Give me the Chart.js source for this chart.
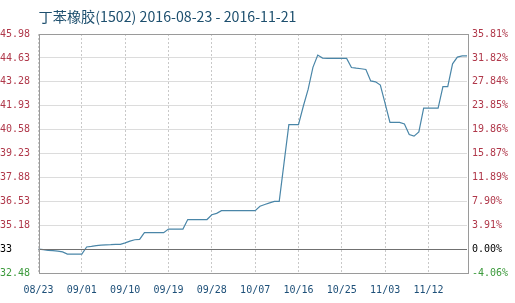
<!DOCTYPE html>
<html lang="zh">
  <head>
    <meta charset="UTF-8" />
    <title>丁苯橡胶(1502)</title>
    <script src="https://cdn.jsdelivr.net/npm/chart.js"></script>
    <style>
      body {
        margin: 0;
        padding: 0;
        background: #fff;
      }
      .wrap {
        width: 515px;
        height: 303px;
      }
    </style>
  </head>
  <body>
    <div class="wrap">
      <canvas id="priceChart" width="515" height="303"></canvas>
    </div>

    <script>
      const titleText = "丁苯橡胶(1502) 2016-08-23 - 2016-11-21";

      // daily dates shown on the x axis
      const dates = [
        "08/23", "08/24", "08/25", "08/26", "08/27", "08/28", "08/29", "08/30", "08/31",
        "09/01", "09/02", "09/03", "09/04", "09/05", "09/06", "09/07", "09/08", "09/09",
        "09/10", "09/11", "09/12", "09/13", "09/14", "09/15", "09/16", "09/17", "09/18",
        "09/19", "09/20", "09/21", "09/22", "09/23", "09/24", "09/25", "09/26", "09/27",
        "09/28", "09/29", "09/30", "10/01", "10/02", "10/03", "10/04", "10/05", "10/06",
        "10/07", "10/08", "10/09", "10/10", "10/11", "10/12", "10/13", "10/14", "10/15",
        "10/16", "10/17", "10/18", "10/19", "10/20", "10/21", "10/22", "10/23", "10/24",
        "10/25", "10/26", "10/27", "10/28", "10/29", "10/30", "10/31", "11/01", "11/02",
        "11/03", "11/04", "11/05", "11/06", "11/07", "11/08", "11/09", "11/10", "11/11",
        "11/12", "11/13", "11/14", "11/15", "11/16", "11/17", "11/18", "11/19", "11/20",
      ];

      // price
      const prices = [
        33.83, 33.8, 33.76, 33.74, 33.72, 33.67, 33.55, 33.55, 33.55,
        33.55, 33.95, 33.98, 34.03, 34.05, 34.07, 34.08, 34.1, 34.1,
        34.18, 34.28, 34.36, 34.38, 34.76, 34.76, 34.76, 34.76, 34.76,
        34.96, 34.96, 34.96, 34.96, 35.5, 35.5, 35.5, 35.5, 35.5,
        35.77, 35.85, 36.0, 36.0, 36.0, 36.0, 36.0, 36.0, 36.0,
        36.0, 36.25, 36.35, 36.44, 36.53, 36.53, 38.7, 40.86, 40.86,
        40.86, 41.9, 42.85, 44.1, 44.79, 44.62, 44.6, 44.6, 44.6,
        44.6, 44.6, 44.09, 44.05, 44.02, 43.98, 43.33, 43.28, 43.1,
        42.05, 40.99, 40.99, 40.99, 40.9, 40.3, 40.21, 40.45, 41.79,
        41.79, 41.79, 41.79, 43.01, 43.01, 44.3, 44.68, 44.75, 44.75,
      ];

      // axis tick labels, bottom to top
      const leftTicks = ["32.48", "33", "35.18", "36.53", "37.88", "39.23", "40.58", "41.93", "43.28", "44.63", "45.98"];
      const rightTicks = ["-4.06%", "0.00%", "3.91%", "7.90%", "11.89%", "15.87%", "19.86%", "23.85%", "27.84%", "31.82%", "35.81%"];

      const yMin = 32.48;
      const yStep = 1.35;
      const baseIndex = 1;
      const xEvery = 9;

      function tickColor(i) {
        if (i === baseIndex) return "#000000";
        if (i < baseIndex) return "#3c9a3c";
        return "#b0384a";
      }

      function setYTicks(scale) {
        scale.ticks = leftTicks.map((_, i) => ({ value: +(yMin + i * yStep).toFixed(2) }));
      }

      const framePlugin = {
        id: "frame",
        afterDatasetsDraw(chart) {
          const { ctx, chartArea: a, scales } = chart;
          ctx.save();
          // base line
          const yb = scales.y.getPixelForValue(yMin + baseIndex * yStep);
          ctx.strokeStyle = "#707070";
          ctx.lineWidth = 1;
          ctx.beginPath();
          ctx.moveTo(a.left, Math.round(yb) + 0.5);
          ctx.lineTo(a.right, Math.round(yb) + 0.5);
          ctx.stroke();
          ctx.strokeStyle = "#9a9a9a";
          ctx.strokeRect(Math.round(a.left) + 0.5, Math.round(a.top) + 0.5, Math.round(a.right - a.left), Math.round(a.bottom - a.top));
          ctx.restore();
        },
      };

      const tickFont = { family: "'DejaVu Sans Mono', monospace", size: 10 };

      new Chart(document.getElementById("priceChart"), {
        type: "line",
        data: {
          labels: dates,
          datasets: [
            {
              data: prices,
              borderColor: "#4a86a8",
              borderWidth: 1.2,
              pointRadius: 0,
              tension: 0,
              fill: false,
            },
          ],
        },
        options: {
          responsive: false,
          animation: false,
          layout: { padding: { left: 0, right: 0, top: 0, bottom: 0 } },
          plugins: {
            legend: { display: false },
            tooltip: { enabled: false },
            title: {
              display: true,
              text: titleText,
              align: "start",
              fullSize: false,
              color: "#1d4f6e",
              font: { family: "'Noto Sans CJK SC', sans-serif", size: 14.2, weight: "normal" },
              padding: { top: 8, bottom: 9 },
            },
          },
          scales: {
            x: {
              type: "category",
              offset: false,
              afterBuildTicks(scale) {
                scale.ticks = scale.ticks.filter((t) => t.value % xEvery === 0);
              },
              afterFit(scale) {
                scale.height = 30;
              },
              ticks: {
                autoSkip: false,
                maxRotation: 0,
                padding: 11,
                color: "#1d4f78",
                font: tickFont,
                callback(value) {
                  return this.getLabelForValue(value);
                },
              },
              grid: { color: "#c8c8c8", drawTicks: false },
              border: { display: false, dash: [2, 2] },
            },
            y: {
              position: "left",
              min: yMin,
              max: yMin + (leftTicks.length - 1) * yStep,
              afterBuildTicks: setYTicks,
              afterFit(scale) {
                scale.width = 38.5;
              },
              ticks: {
                crossAlign: "far",
                padding: 3,
                font: tickFont,
                color: (c) => tickColor(c.index),
                callback: (v, i) => leftTicks[i],
              },
              grid: { color: "#dcdcdc", drawTicks: false },
              border: { display: false },
            },
            y2: {
              position: "right",
              min: yMin,
              max: yMin + (leftTicks.length - 1) * yStep,
              afterBuildTicks: setYTicks,
              afterFit(scale) {
                scale.width = 48;
              },
              ticks: {
                padding: 5,
                font: tickFont,
                color: (c) => tickColor(c.index),
                callback: (v, i) => rightTicks[i],
              },
              grid: { display: false, drawTicks: false },
              border: { display: false },
            },
          },
        },
        plugins: [framePlugin],
      });
    </script>
  </body>
</html>
